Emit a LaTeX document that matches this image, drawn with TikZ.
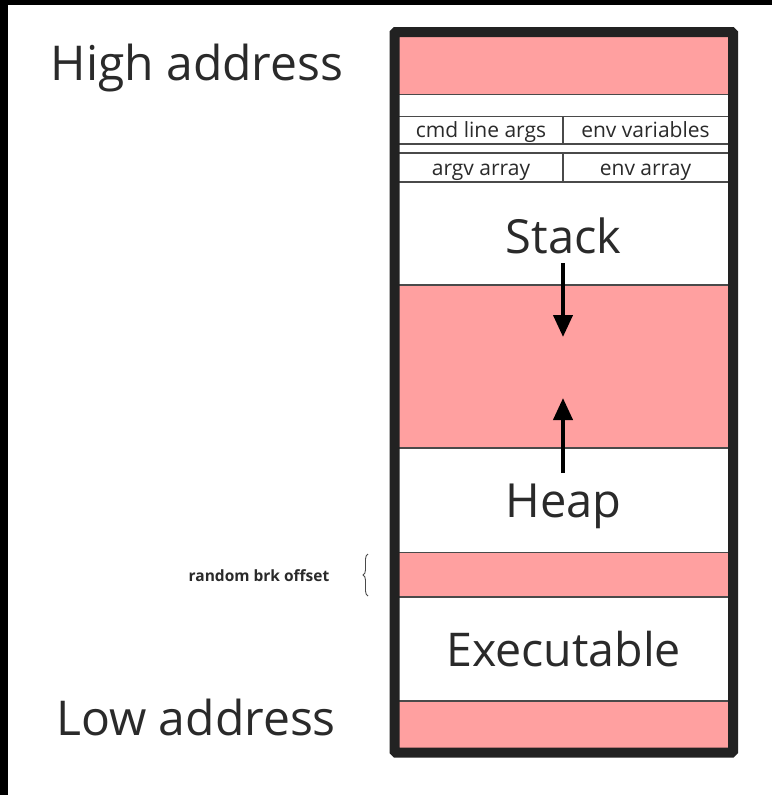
\documentclass[tikz,border=0pt]{standalone}
\usepackage{fontspec}
\setmainfont{Open Sans}
\usetikzlibrary{arrows.meta,decorations.pathreplacing}
\definecolor{seg}{HTML}{FFA0A0}
\definecolor{ink}{HTML}{2A2A2A}
\definecolor{rule}{HTML}{4A4A4A}
\definecolor{frame}{HTML}{222222}
\tikzset{
  redseg/.style={fill=seg, draw=none},
  sep/.style={draw=rule, line width=1.8pt},
  bigtxt/.style={text=ink, inner sep=0pt, font=\fontsize{47}{56}\selectfont},
  celltxt/.style={text=ink, inner sep=0pt, font=\fontsize{21}{24}\selectfont},
  growarrow/.style={-{Triangle[width=19pt,length=22pt]}, line width=4pt, black},
}
\begin{document}
\begin{tikzpicture}[x=1pt,y=-1pt]
\useasboundingbox (0,0) rectangle (772,795);
\fill[white] (0,0) rectangle (772,795);
% dark edges of the canvas
\fill[black] (0,0) rectangle (772,4.5);
\fill[black] (0,0) rectangle (8,795);

% coloured address ranges
\fill[redseg] (399,37) rectangle (728,94.5);
\fill[redseg] (399,285) rectangle (728,448);
\fill[redseg] (399,552.5) rectangle (728,597);
\fill[redseg] (399,701) rectangle (728,748);

% separators between the segments
\foreach \yy in {94.5,116.5,144,153,182,285,448,552.5,597,701}
  \draw[sep] (399,\yy) -- (728,\yy);
\draw[sep] (563,116.5) -- (563,144);
\draw[sep] (563,153) -- (563,182);

% outer frame
\draw[frame, line width=10pt, rounded corners=1.5pt] (394.5,32) rectangle (733,752.5);

% labels
\node[bigtxt, anchor=base, font=\fontsize{48}{56}\selectfont] (high) at (197,80) {High address};
\node[bigtxt, anchor=base, font=\fontsize{48}{56}\selectfont] (low) at (196,735) {Low address};
\node[celltxt, anchor=base] (cmd) at (481,137) {cmd line args};
\node[celltxt, anchor=base] (envv) at (645.5,137) {env variables};
\node[celltxt, anchor=base] (argv) at (481,175) {argv array};
\node[celltxt, anchor=base] (enva) at (645.5,175) {env array};
\node[bigtxt, anchor=base] (stack) at (563.5,253) {Stack};
\node[bigtxt, anchor=base] (heap) at (563.5,517) {Heap};
\node[bigtxt, anchor=base, font=\fontsize{46.5}{56}\selectfont] (exe) at (563.5,666) {Executable};
\node[text=ink, inner sep=0pt, anchor=base, font=\bfseries\fontsize{15.5}{18}\selectfont] (brk) at (259,581) {random brk offset};

% brace marking the offset range
\draw[rule, line width=0.9pt, decorate, decoration={brace, amplitude=5pt}]
  (368,596) -- (368,554);

% growth directions of stack and heap
\coordinate (stacktop) at (563,263);
\coordinate (stackend) at (563,337);
\coordinate (heaptop) at (563,473);
\coordinate (heapend) at (563,398);
\draw[growarrow] (stacktop) -- (stackend);
\draw[growarrow] (heaptop) -- (heapend);
\end{tikzpicture}
\end{document}
